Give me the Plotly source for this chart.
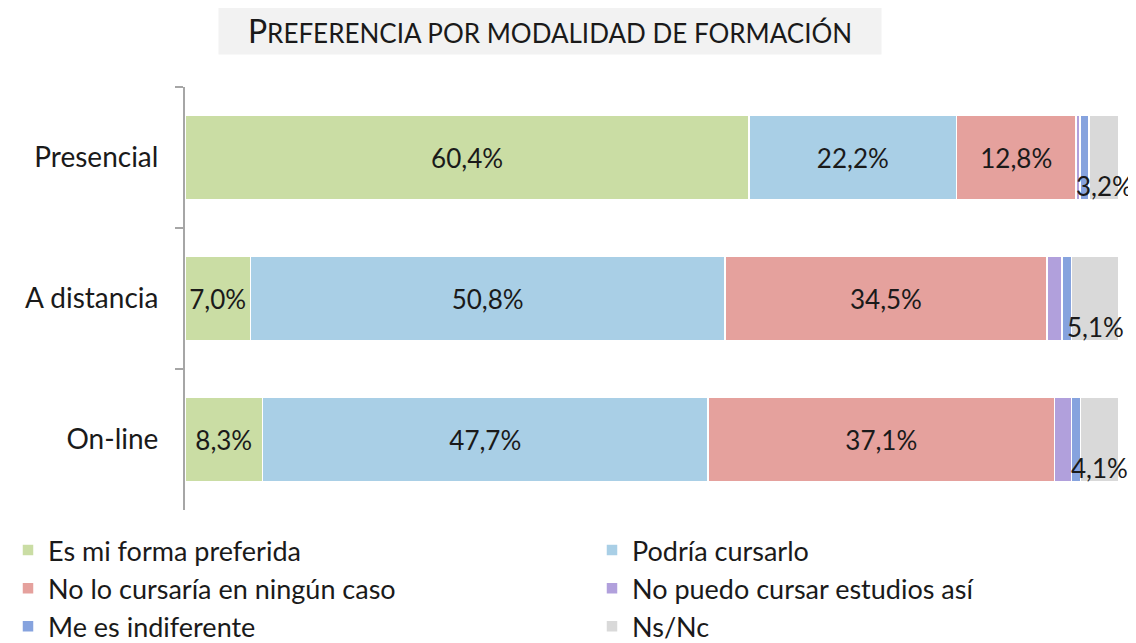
import plotly.graph_objects as go

categories = ["Presencial", "A distancia", "On-line"]
series_names = ["Es mi forma preferida", "Podría cursarlo", "No lo cursaría en ningún caso",
                "No puedo cursar estudios así", "Me es indiferente", "Ns/Nc"]
es_mi_forma = [60.4, 7.0, 8.3]
podria = [22.2, 50.8, 47.7]
no_lo_cursaria = [12.8, 34.5, 37.1]
no_puedo = [0.4, 1.6, 1.8]
indiferente = [1.0, 1.0, 1.0]
ns_nc = [3.2, 5.1, 4.1]
show_label = [True, True, True, False, False, False]
legend_column = ["legend", "legend2", "legend", "legend2", "legend", "legend2"]
colors = ["#cadda4", "#a9cfe6", "#e5a19d", "#b1a0dc", "#86a3de", "#d9d9d9"]

series = [es_mi_forma, podria, no_lo_cursaria, no_puedo, indiferente, ns_nc]
FONT = "Lato"
TXT = "#1a1a1a"

W, H = 1136, 643
OFF = 8  # page body margin offset
# plot area in screen pixels
L, R, T, B = 185, 1119, 87, 510

def px(x):
    return (x - OFF) / W

def py(y):
    return 1 - (y - OFF) / H

def fmt(v):
    return f"{v:.1f}".replace(".", ",") + "%"

fig = go.Figure()
for name, vals, col, lab, lg in zip(series_names, series, colors, show_label, legend_column):
    fig.add_trace(go.Bar(
        y=categories, x=vals, name=name, orientation="h",
        marker=dict(color=col, line=dict(color="white", width=1.5)),
        text=[fmt(v) for v in vals] if lab else None,
        textposition="inside" if lab else "none",
        insidetextanchor="middle",
        textfont=dict(family=FONT, size=26, color=TXT),
        constraintext="none",
        legend=lg, legendgroup=name,
    ))

# Ns/Nc labels placed below the centre of the grey segment
for i, cat in enumerate(categories):
    end = sum(s[i] for s in series)
    center = end - ns_nc[i] / 2
    fig.add_annotation(x=center, y=cat, text=fmt(ns_nc[i]), showarrow=False,
                       yshift=-28, font=dict(family=FONT, size=26, color=TXT))

title_html = '<span style="font-size:32px">P</span>REFERENCIA POR MODALIDAD DE FORMACIÓN'
fig.add_annotation(xref="paper", yref="paper", x=px(550), y=py(30),
                   xanchor="center", yanchor="middle",
                   text=title_html, showarrow=False, bgcolor="#f2f2f2",
                   width=660, height=46, font=dict(family=FONT, size=26, color=TXT))

leg_common = dict(orientation="v", y=0.0, yanchor="bottom",
                  xanchor="left", traceorder="normal",
                  font=dict(family=FONT, size=27, color=TXT),
                  itemwidth=30, tracegroupgap=6, bgcolor="rgba(0,0,0,0)")

fig.update_layout(
    width=W, height=H,
    margin=dict(l=0, r=0, t=0, b=0),
    barmode="stack", bargap=0.4,
    plot_bgcolor="white", paper_bgcolor="white",
    font=dict(family=FONT, size=24, color=TXT),
    showlegend=True,
    legend=dict(x=0.0, **leg_common),
    legend2=dict(x=px(592), **leg_common),
    uniformtext=dict(mode=False),
)
fig.update_xaxes(range=[0, 100], visible=False, domain=[px(L), px(R)])
fig.update_yaxes(autorange="reversed", showline=True, linecolor="#a6a6a6", linewidth=2,
                 domain=[py(B), py(T)],
                 ticks="outside", tickson="boundaries", ticklen=8, tickcolor="#a6a6a6",
                 tickwidth=2, ticklabelstandoff=19, automargin=False,
                 tickfont=dict(family=FONT, size=28, color=TXT))

fig.write_html("out.html")
